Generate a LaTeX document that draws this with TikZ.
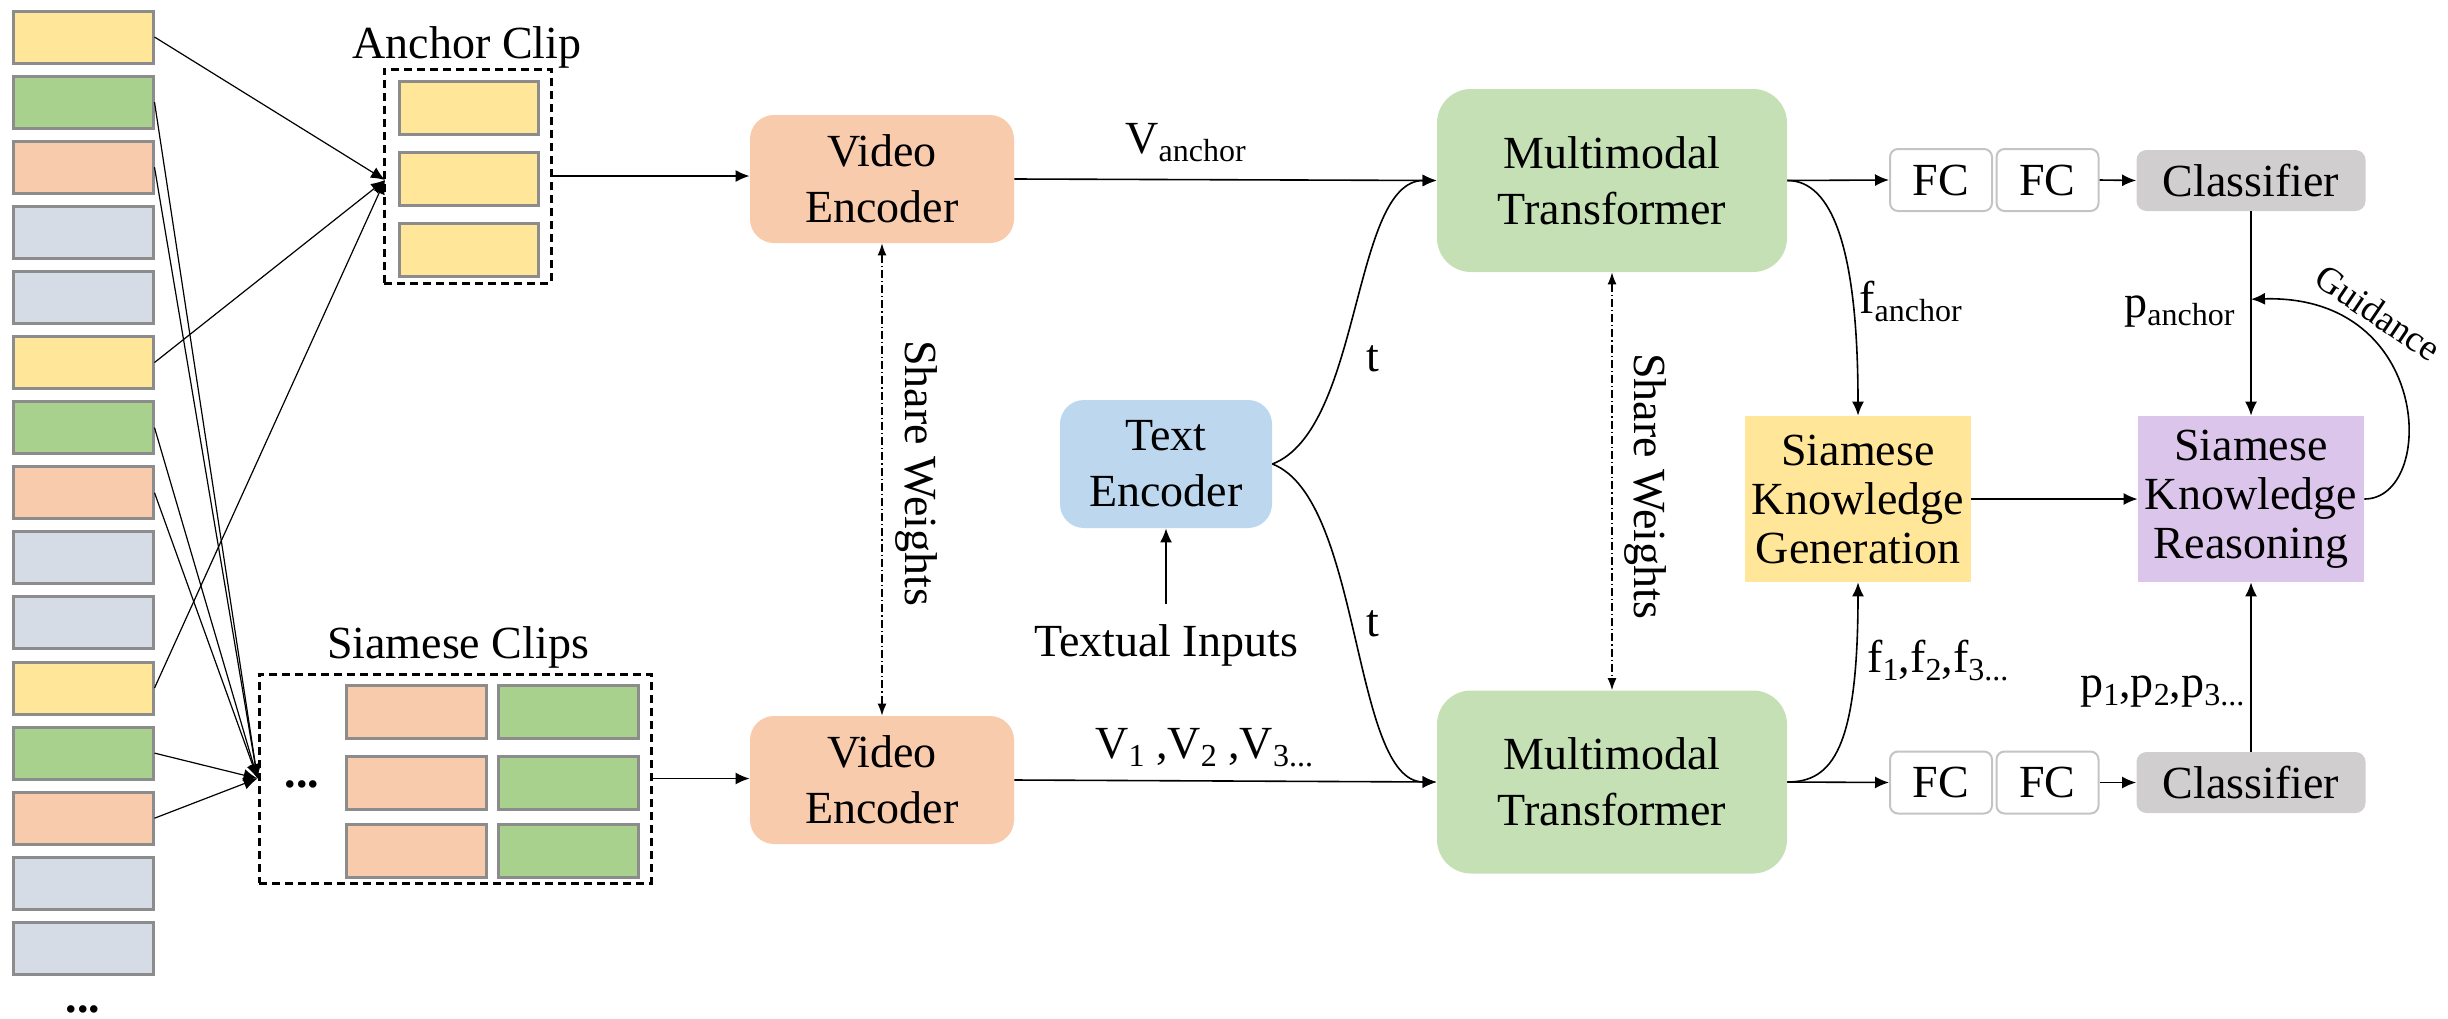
\documentclass[tikz,border=0pt]{standalone}
\usepackage{fontspec}
\setmainfont{LiberationSerif}[Extension=.ttf, UprightFont=*-Regular, BoldFont=*-Bold, ItalicFont=*-Italic, BoldItalicFont=*-BoldItalic]
\usetikzlibrary{arrows.meta}

\definecolor{cyellow}{HTML}{FFE699}
\definecolor{cgreen}{HTML}{A9D18E}
\definecolor{cpeach}{HTML}{F8CBAD}
\definecolor{cgrey}{HTML}{D6DCE5}
\definecolor{cframe}{HTML}{8C8C8C}
\definecolor{cmt}{HTML}{C5E0B4}
\definecolor{cte}{HTML}{BDD7EE}
\definecolor{ccls}{HTML}{D0CECE}
\definecolor{cskr}{HTML}{DCC5EB}
\definecolor{cfcline}{HTML}{C4C4C4}

% lowered, smaller text for indices
\newcommand\sbs[1]{\raisebox{-4pt}{\fontsize{16}{16}\selectfont #1}}

\begin{document}
\begin{tikzpicture}[x=0.5pt,y=-0.5pt,
  txt/.style={font=\fontsize{23}{28}\selectfont, inner sep=0pt, align=center},
  lbl/.style={font=\fontsize{23}{28}\selectfont, inner sep=0pt},
  clipbox/.style={draw=cframe, line width=1.5pt, minimum width=70pt, minimum height=26pt, inner sep=0pt},
  grp/.style={draw=black, line width=1.5pt, dash pattern=on 4pt off 2.5pt, inner sep=0pt},
  block/.style={txt, rounded corners=12pt},
  fcbox/.style={txt, draw=cfcline, line width=1pt, rounded corners=4pt, fill=white, minimum width=51pt, minimum height=31pt},
  clsbox/.style={txt, fill=ccls, rounded corners=5pt, minimum width=114.5pt, minimum height=30.5pt},
  skbox/.style={txt, font=\fontsize{23}{24.5}\selectfont, minimum width=113pt, minimum height=83pt},
  arr/.style={-{Latex[length=7pt,width=6pt]}, line width=0.8pt},
  fan/.style={-{Latex[length=7pt,width=6pt]}, line width=0.6pt},
  share/.style={{Latex[length=6pt,width=4.5pt]}-{Latex[length=6pt,width=4.5pt]}, line width=0.6pt,
                dash pattern=on 4pt off 1.5pt on 0.6pt off 1.5pt},
]
\useasboundingbox (0,0) rectangle (2448,1018);

% ---- frame sequence on the left ----
\foreach \c [count=\i] in {cyellow,cgreen,cpeach,cgrey,cgrey,
                           cyellow,cgreen,cpeach,cgrey,cgrey,
                           cyellow,cgreen,cpeach,cgrey,cgrey}
  \node[clipbox, fill=\c] (f\i) at (83,{37+65.1*(\i-1)}) {};
\node[lbl, anchor=base, font=\fontsize{23}{28}\selectfont\bfseries] (fdots) at (83,1012) {...};

% ---- anchor clip ----
\node[grp, minimum width=83.5pt, minimum height=107pt] (af) at (467.5,176) {};
\foreach \y [count=\k] in {107.5,178.5,249.5}
  \node[clipbox, fill=cyellow, minimum width=69.5pt, minimum height=26.5pt] (a\k) at (468.5,\y) {};
\node[lbl, anchor=base] (alab) at (467,58) {Anchor Clip};
\coordinate (ain) at (385,180);

% ---- siamese clips ----
\node[grp, minimum width=196pt, minimum height=104.5pt] (sf) at (455,778.5) {};
\foreach \y [count=\k] in {711.5,782.5,850.5} {
  \node[clipbox, fill=cpeach, minimum height=26.5pt] (sp\k) at (416,\y) {};
  \node[clipbox, fill=cgreen, minimum height=26.5pt] (sg\k) at (568.5,\y) {};
}
\node[lbl, anchor=base, font=\fontsize{23}{28}\selectfont\bfseries] (sdots) at (302,787) {...};
\node[lbl, anchor=base] (slab) at (458,658) {Siamese Clips};

% fan-in from frames to clips
\foreach \i in {1,6,11} \draw[fan] (f\i.east) -- (ain);
\foreach \i in {2,3,7,8,12,13} \draw[fan] (f\i.east) -- (sf.west);

% ---- encoders ----
\node[block, fill=cpeach, minimum width=132pt, minimum height=64pt] (ve1) at (882,179) {Video\\Encoder};
\node[block, fill=cpeach, minimum width=132pt, minimum height=64pt] (ve2) at (882,780) {Video\\Encoder};
\node[block, fill=cte, minimum width=106pt, minimum height=64pt] (te) at (1166,464) {Text\\Encoder};
\node[lbl, anchor=base] (ti) at (1166,656) {Textual Inputs};

% ---- multimodal transformers ----
\node[block, rounded corners=17pt, fill=cmt, minimum width=175pt, minimum height=91.5pt] (mt1) at (1612,180.5) {Multimodal\\Transformer};
\node[block, rounded corners=17pt, fill=cmt, minimum width=175pt, minimum height=91.5pt] (mt2) at (1612,782) {Multimodal\\Transformer};

% ---- heads ----
\node[fcbox] (fa1) at (1941,180) {FC};
\node[fcbox] (fa2) at (2047.5,180) {FC};
\node[clsbox] (cls1) at (2251,180.5) {Classifier};
\node[fcbox] (fb1) at (1941,782.5) {FC};
\node[fcbox] (fb2) at (2047.5,782.5) {FC};
\node[clsbox] (cls2) at (2251,782.5) {Classifier};

\node[skbox, fill=cyellow] (skg) at (1858,499) {Siamese\\Knowledge\\Generation};
\node[skbox, fill=cskr] (skr) at (2251,499) {Siamese\\Knowledge\\Reasoning};

% ---- connectors ----
\draw[arr] (af.east) -- (af.east -| ve1.west);
\draw[arr] (sf.east) -- (sf.east -| ve2.west);
\draw[arr] (ve1.east) -- (mt1.west);
\draw[arr] (ve2.east) -- (mt2.west);
\draw[arr, shorten <=10pt] (ti.north) -- (te.south);
\draw[arr] (te.east) .. controls +(90,-35) and +(-85,0) .. (mt1.west);
\draw[arr] (te.east) .. controls +(90,35) and +(-85,0) .. (mt2.west);

\draw[share] (ve1.south) -- (ve2.north);
\draw[share] (mt1.south) -- (mt2.north);
\node[lbl, rotate=-90] (sw1) at (916,473) {Share Weights};
\node[lbl, rotate=-90] (sw2) at (1645,486) {Share Weights};

\draw[arr] (mt1.east) -- (fa1.west);
\draw[arr] (fa2.east) -- (cls1.west);
\draw[arr] (mt2.east) -- (fb1.west);
\draw[arr] (fb2.east) -- (cls2.west);

\draw[arr] (mt1.east) .. controls +(45,0) and +(0,-166) .. (skg.north);
\draw[arr] (mt2.east) .. controls +(45,0) and +(0,166) .. (skg.south);
\draw[arr] (skg.east) -- (skr.west);
\draw[arr] (cls1.south) -- (skr.north);
\draw[arr] (cls2.north) -- (skr.south);
\path (cls1.south) -- coordinate[pos=0.43] (gd) (skr.north);
\draw[arr] (skr.east) .. controls +(72,0) and +(183,-5) .. (gd);

% ---- labels ----
\node[lbl, anchor=base west] (lva) at (1125,153) {V\sbs{anchor}};
\node[lbl, anchor=base west] (lv) at (1095,758) {V\sbs{1} ,V\sbs{2} ,V\sbs{3...}};
\node[lbl, anchor=base west] (lt1) at (1366,371) {t};
\node[lbl, anchor=base west] (lt2) at (1366,636) {t};
\node[lbl, anchor=base west] (lfa) at (1859,313) {f\sbs{anchor}};
\node[lbl, anchor=base west] (lf) at (1867,672) {f\sbs{1},f\sbs{2},f\sbs{3...}};
\node[lbl, anchor=base west] (lpa) at (2124,317) {p\sbs{anchor}};
\node[lbl, anchor=base west] (lp) at (2080,697) {p\sbs{1},p\sbs{2},p\sbs{3...}};
\node[font=\fontsize{18.5}{20}\selectfont, inner sep=0pt, rotate=-34] (lg) at (2378,313) {Guidance};
\end{tikzpicture}
\end{document}
